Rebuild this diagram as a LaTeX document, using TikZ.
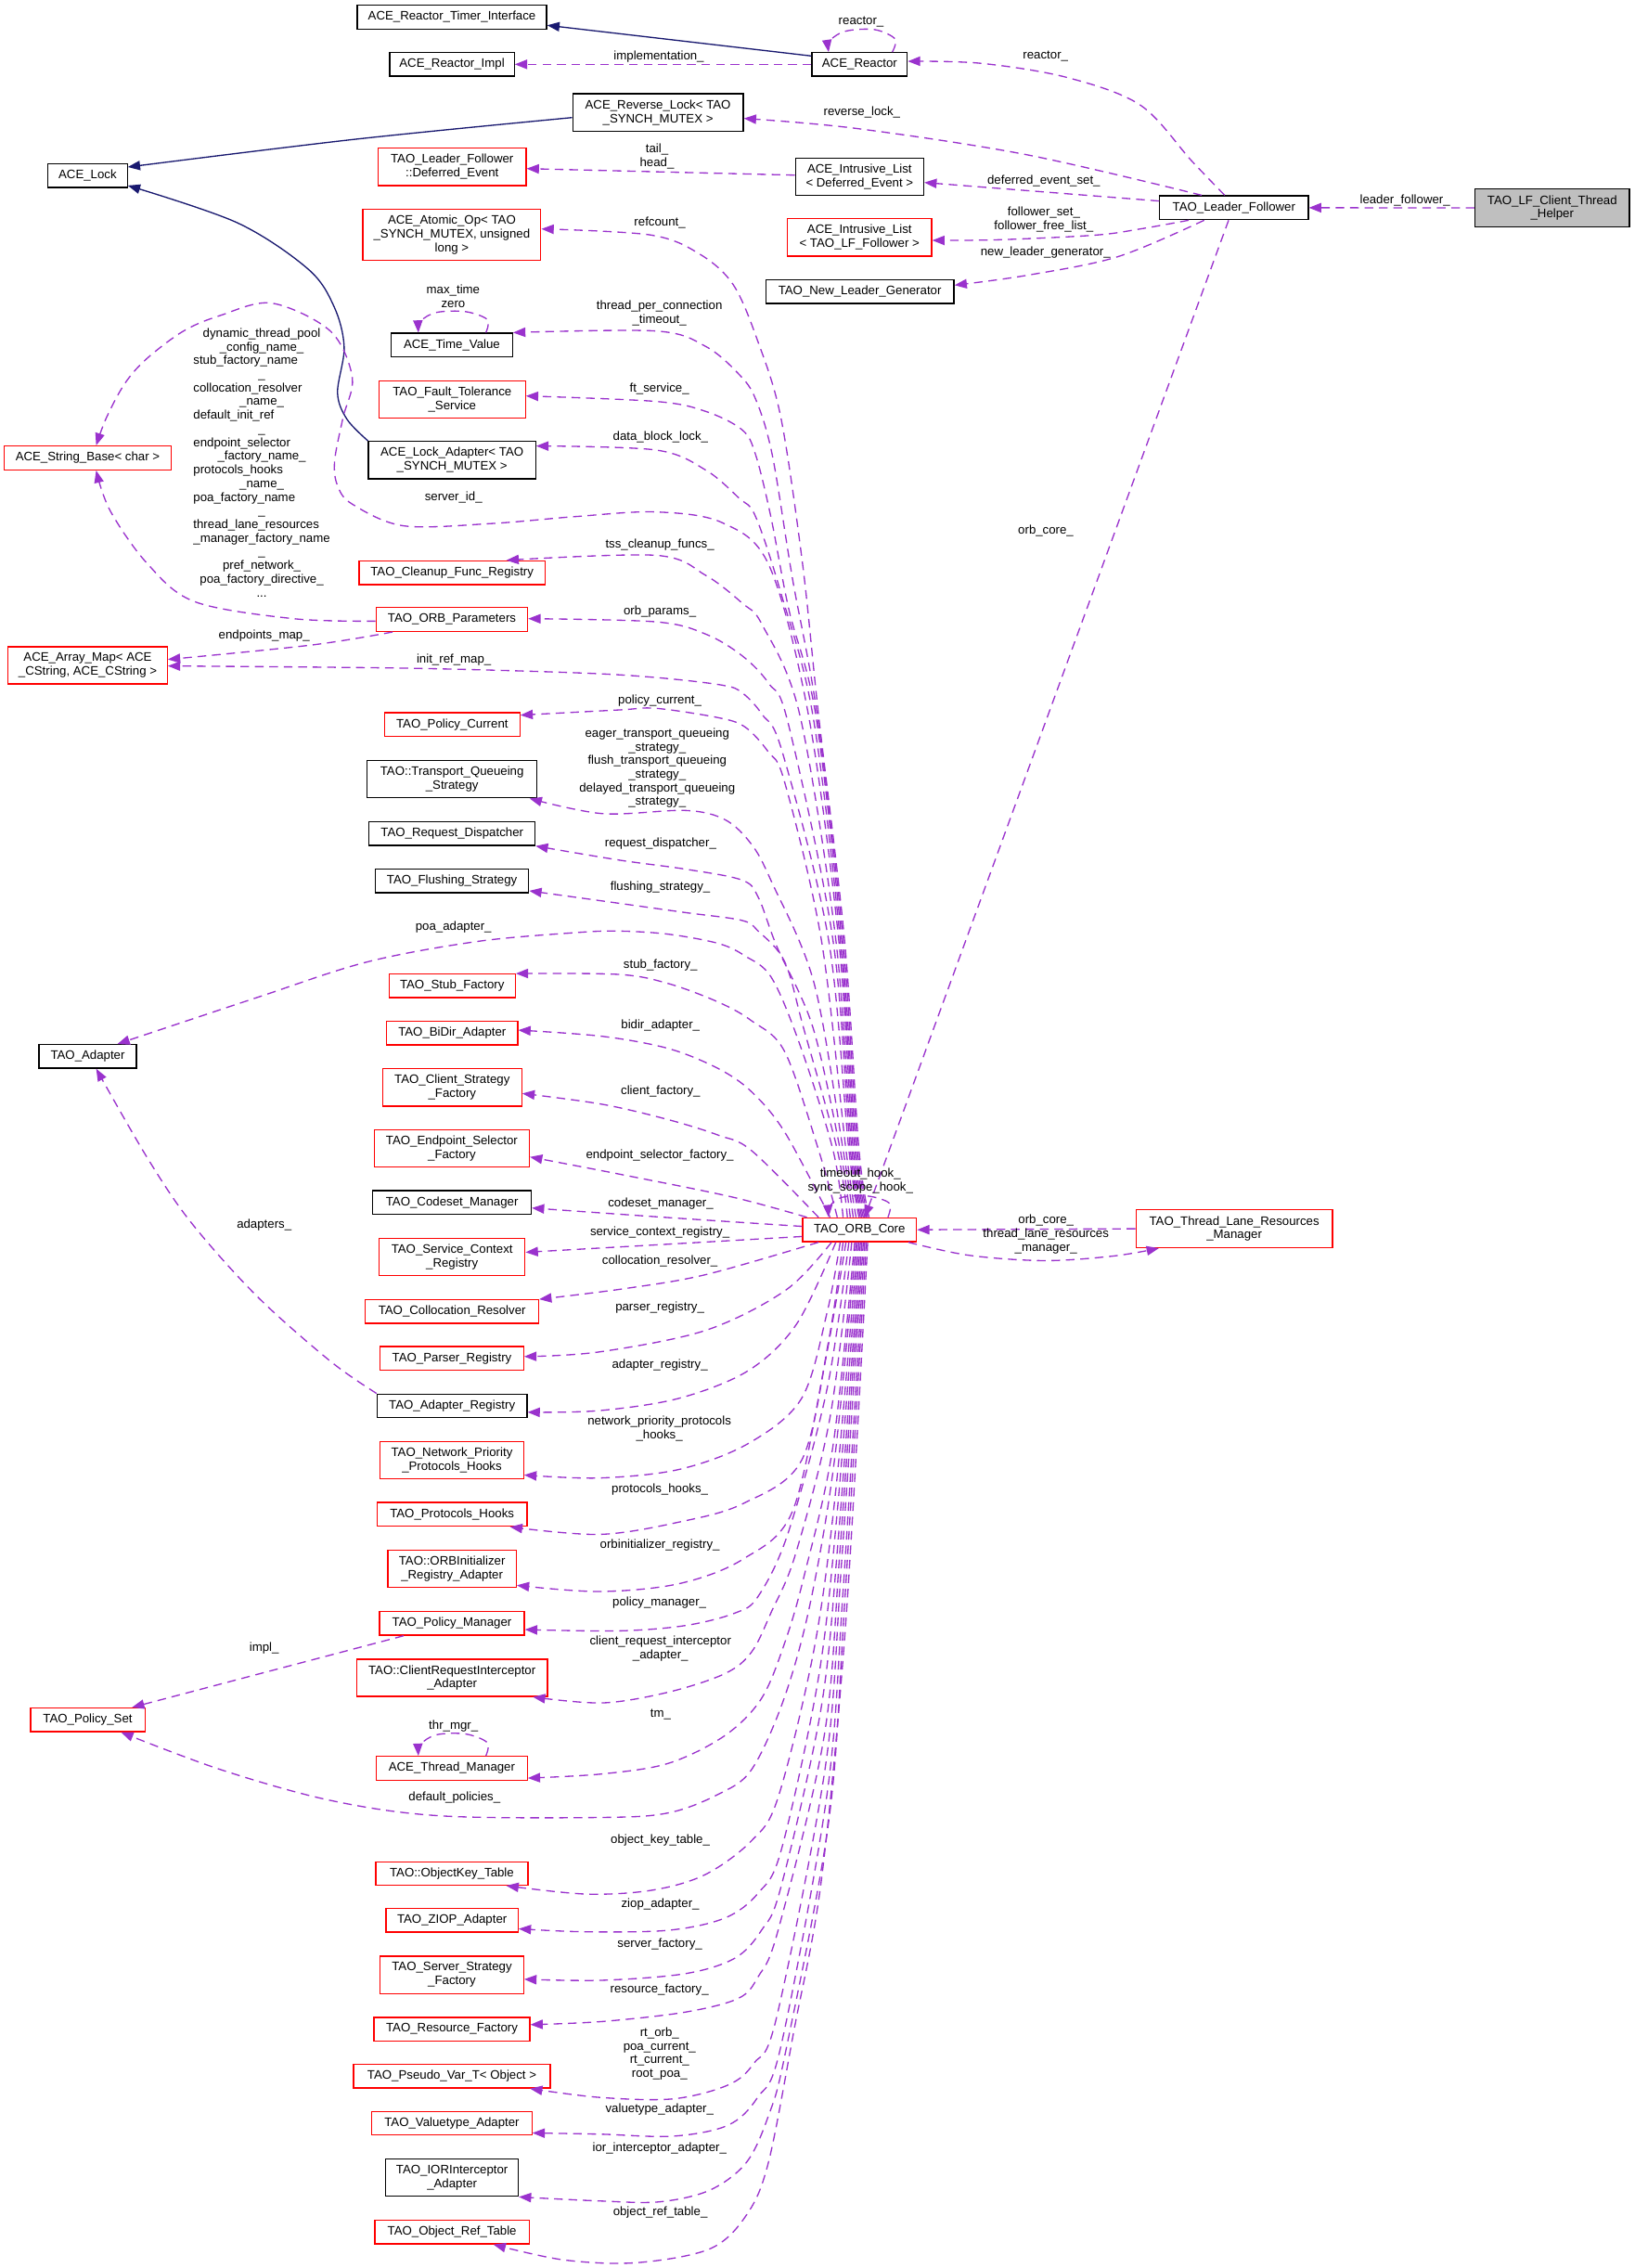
\documentclass[tikz,border=0pt]{standalone}
\usepackage{fontspec}
\setmainfont{Liberation Sans}
\usetikzlibrary{arrows.meta}
\definecolor{purp}{HTML}{9A32CD}
\definecolor{navyb}{HTML}{191970}
\definecolor{gfill}{HTML}{BFBFBF}
\newcommand\fs{\fontsize{8.5}{9.45}\selectfont}
\newcommand\bx[6]{\node[#1,minimum width=#4pt,minimum height=#5pt] (#2) at (#3) {#6};}
\newcommand\lb[3]{\node[lbl] (#1) at (#2) {#3};}
\newcommand\pe[2][]{\draw[mem,#1] plot[smooth,tension=0.55] coordinates {#2};}
\newcommand\cc[1]{\multicolumn{1}{@{}c@{}}{#1}}
\tikzset{
 bbox/.style={draw=black,fill=white,line width=0.8pt,inner sep=0pt,align=center,font=\fs},
 rbox/.style={bbox,draw=red},
 gbox/.style={bbox,fill=gfill},
 mem/.style={draw=purp,line width=0.85pt,dash pattern=on 6pt off 4pt,-{Triangle[length=8.5pt,width=6.5pt]}},
 inh/.style={draw=navyb,line width=0.85pt,-{Triangle[length=8.5pt,width=6.5pt]}},
 lbl/.style={inner sep=0pt,align=center,font=\fs},
}
\begin{document}
\begin{tikzpicture}[x=1pt,y=-1pt]
\useasboundingbox (0,0) rectangle (1130,1568.27);
\fill[white] (0,0) rectangle (1130,1568.27);
% ---------- nodes
\bx{bbox}{rti}{312.5,11.85}{131}{16.5}{ACE\_Reactor\_Timer\_Interface}
\bx{bbox}{rimpl}{312.55,44.5}{86.1}{16.2}{ACE\_Reactor\_Impl}
\bx{bbox}{reactor}{594.45,44.5}{65.9}{16.2}{ACE\_Reactor}
\bx{bbox}{rlock}{455,77.75}{118}{25.9}{ACE\_Reverse\_Lock< TAO\\\_SYNCH\_MUTEX >}
\bx{bbox}{lock}{60.6,121.5}{54.8}{16.2}{ACE\_Lock}
\bx{rbox}{defev}{312.65,115.4}{102.3}{25.8}{TAO\_Leader\_Follower\\::Deferred\_Event}
\bx{bbox}{ildef}{594.4,122.35}{88.8}{25.7}{ACE\_Intrusive\_List\\< Deferred\_Event >}
\bx{bbox}{lf}{853.35,143.65}{102.7}{16.5}{TAO\_Leader\_Follower}
\bx{gbox}{helper}{1073.4,143.75}{106.8}{26.1}{TAO\_LF\_Client\_Thread\\\_Helper}
\bx{rbox}{atomic}{312.45,162.45}{123.1}{35.3}{ACE\_Atomic\_Op< TAO\\\_SYNCH\_MUTEX, unsigned\\long >}
\bx{rbox}{ilfol}{594.35,164.15}{99.9}{25.9}{ACE\_Intrusive\_List\\< TAO\_LF\_Follower >}
\bx{bbox}{nlg}{594.6,201.8}{130.2}{16.2}{TAO\_New\_Leader\_Generator}
\bx{bbox}{tv}{312.45,238.5}{83.9}{16.2}{ACE\_Time\_Value}
\bx{rbox}{ft}{312.7,276.35}{101.2}{25.7}{TAO\_Fault\_Tolerance\\\_Service}
\bx{rbox}{strb}{60.6,316.65}{115.2}{16.5}{ACE\_String\_Base< char >}
\bx{bbox}{lockad}{312.6,318.15}{115.6}{25.9}{ACE\_Lock\_Adapter< TAO\\\_SYNCH\_MUTEX >}
\bx{rbox}{cleanup}{312.6,396.05}{128.4}{16.5}{TAO\_Cleanup\_Func\_Registry}
\bx{rbox}{params}{312.5,428.35}{104.8}{16.5}{TAO\_ORB\_Parameters}
\bx{rbox}{amap}{60.65,460.1}{110.1}{25.6}{ACE\_Array\_Map< ACE\\\_CString, ACE\_CString >}
\bx{rbox}{pcur}{312.7,501.05}{93.6}{16.5}{TAO\_Policy\_Current}
\bx{bbox}{tqs}{312.6,538.85}{117.2}{25.7}{TAO::Transport\_Queueing\\\_Strategy}
\bx{bbox}{rd}{312.65,576.45}{114.7}{16.3}{TAO\_Request\_Dispatcher}
\bx{bbox}{fs}{312.6,609.15}{106}{16.3}{TAO\_Flushing\_Strategy}
\bx{bbox}{adapter}{60.65,730.45}{67.5}{16.3}{TAO\_Adapter}
\bx{rbox}{stub}{312.65,681.7}{87.3}{16.2}{TAO\_Stub\_Factory}
\bx{rbox}{bidir}{312.7,714.25}{90.6}{16.5}{TAO\_BiDir\_Adapter}
\bx{rbox}{csf}{312.7,751.95}{96.2}{25.9}{TAO\_Client\_Strategy\\\_Factory}
\bx{rbox}{esf}{312.45,794}{107.3}{25.6}{TAO\_Endpoint\_Selector\\\_Factory}
\bx{bbox}{codeset}{312.6,831.55}{109.6}{16.5}{TAO\_Codeset\_Manager}
\bx{rbox}{orb}{594.4,850.35}{78.8}{16.5}{TAO\_ORB\_Core}
\bx{rbox}{tlrm}{853.5,849.65}{136}{26.1}{TAO\_Thread\_Lane\_Resources\\\_Manager}
\bx{rbox}{scr}{312.6,869.35}{101}{25.7}{TAO\_Service\_Context\\\_Registry}
\bx{rbox}{coll}{312.6,906.95}{119.8}{16.3}{TAO\_Collocation\_Resolver}
\bx{rbox}{parser}{312.5,939.35}{99.2}{16.5}{TAO\_Parser\_Registry}
\bx{bbox}{areg}{312.6,972}{103.6}{16.2}{TAO\_Adapter\_Registry}
\bx{rbox}{nph}{312.5,1009.6}{99.2}{25.6}{TAO\_Network\_Priority\\\_Protocols\_Hooks}
\bx{rbox}{ph}{312.6,1047.15}{103.6}{16.5}{TAO\_Protocols\_Hooks}
\bx{rbox}{orbinit}{312.6,1084.9}{88.8}{25.8}{TAO::ORBInitializer\\\_Registry\_Adapter}
\bx{rbox}{pm}{312.5,1122.55}{100.2}{16.3}{TAO\_Policy\_Manager}
\bx{rbox}{cria}{312.6,1160.15}{132}{25.7}{TAO::ClientRequestInterceptor\\\_Adapter}
\bx{rbox}{pset}{60.65,1189.2}{79.1}{16.4}{TAO\_Policy\_Set}
\bx{rbox}{thrm}{312.45,1222.75}{104.3}{16.5}{ACE\_Thread\_Manager}
\bx{rbox}{okt}{312.45,1295.4}{105.3}{16.2}{TAO::ObjectKey\_Table}
\bx{rbox}{ziop}{312.6,1327.9}{91.4}{16.2}{TAO\_ZIOP\_Adapter}
\bx{rbox}{ssf}{312.5,1365.55}{99.2}{25.7}{TAO\_Server\_Strategy\\\_Factory}
\bx{rbox}{rf}{312.5,1403.15}{107.8}{16.3}{TAO\_Resource\_Factory}
\bx{rbox}{pvar}{312.5,1435.6}{136}{16.4}{TAO\_Pseudo\_Var\_T< Object >}
\bx{rbox}{vta}{312.5,1468.25}{110.6}{16.3}{TAO\_Valuetype\_Adapter}
\bx{bbox}{iora}{312.6,1505.85}{91.6}{25.7}{TAO\_IORInterceptor\\\_Adapter}
\bx{rbox}{ort}{312.6,1543.5}{106.8}{16.2}{TAO\_Object\_Ref\_Table}
% ---------- inheritance
\draw[inh] (reactor.west |- 0,38.7) -- (rti.east |- 0,17.5);
\draw[inh] plot[smooth,tension=0.55] coordinates {(rlock.west |- 0,81.3) (245.6,96.3) (lock.east |- 0,115.5)};
\draw[inh] plot[smooth,tension=0.55] coordinates {(lockad.north west) (240,290) (233.4,271.7) (238,240) (231,212) (213,186) (164,154) (lock.east |- 0,128.3)};
% ---------- top cluster
\pe{(617,0 |- reactor.north) (619,27) (605,20.5) (585,21.5) (574,28) (573,0 |- reactor.north)}
\draw[mem] (reactor.west) -- (rimpl.east);
\draw[mem] (ildef.west |- 0,121.1) -- (defev.east |- 0,116.6);
\draw[mem] (helper.west) -- (lf.east);
\pe{(846.9,0 |- lf.north) (824,111.2) (788.6,72.7) (737.6,53.5) (678.5,43.8) (reactor.east |- 0,42.4)}
\pe{(831,0 |- lf.north) (710,107) (592,88.8) (rlock.east |- 0,81.9)}
\draw[mem] (lf.west |- 0,139) -- (ildef.east |- 0,126.2);
\pe{(822,0 |- lf.south) (788.6,158.3) (757.2,162.6) (690.3,165.8) (ilfol.east |- 0,166.2)}
\pe{(832.7,0 |- lf.south) (773,177.5) (710,190.4) (nlg.east |- 0,197.2)}
\draw[mem] (849.6,0 |- lf.south) -- (598,0 |- orb.north);
% ---------- self loops
\pe{(336,0 |- tv.north) (337,221) (322,215.5) (302,216) (291,222) (289.3,0 |- tv.north)}
\pe{(336,0 |- thrm.north) (337,1205) (322,1199) (302,1199.5) (291,1206) (289.3,0 |- thrm.north)}
\pe{(614,0 |- orb.north) (615,832) (600,827) (582,828) (574,834) (573,0 |- orb.north)}
% ---------- ORB upward edges
\pe{(601,0 |- orb.north) (594,795) (584,650) (566,494) (555,390) (540,288.8) (523.8,235.3) (507,196.8) (483.7,175.6) (450,162.5) (atomic.east |- 0,158.3)}
\pe{(600,0 |- orb.north) (593,795) (583,650) (565,494) (548,400) (534,314.4) (522.5,275.9) (511,258.8) (488.1,239.6) (453.8,228.9) (tv.north east)}
\pe{(599,0 |- orb.north) (592,795) (582,650) (564,494) (545.5,421.4) (533,357) (522.5,314.4) (513.3,297.3) (488.1,284.5) (453.8,277.6) (ft.east |- 0,273.8)}
\pe{(598,0 |- orb.north) (591,795) (581,650) (562,494) (540,410) (522.5,357.2) (511,344.4) (488.1,325.1) (453.8,311.2) (lockad.east |- 0,308.4)}
\pe{(597,0 |- orb.north) (590,795) (580,650) (559,494) (532,391.4) (499.6,361.5) (453.7,354) (397.9,357.2) (340,362) (279.1,363.6) (243.6,348.6) (233.4,335.8) (231.4,318.7) (237.2,288.8) (243.6,261) (228.4,228.9) (187.8,209.6) (152.2,218.2) (126.9,228.9) (101.5,248) (86.3,265.2) (73.6,288.8) (66.5,0 |- strb.north)}
\pe{(596,0 |- orb.north) (589,795) (578,650) (553,494) (527.1,432.1) (513.3,417.1) (488.1,397.9) (453.8,384) (350.2,0 |- cleanup.north)}
\pe{(595,0 |- orb.north) (588,795) (576,650) (545,500) (531.7,472.7) (513.3,453.5) (488.1,438.5) (453.8,430) (params.east |- 0,427.8)}
\pe{(594,0 |- orb.north) (587,795) (573,650) (541,520) (527.1,494.1) (513.3,479.1) (499.6,473.8) (453.8,468.5) (397.9,465.2) (279,462) (amap.east |- 0,460.5)}
\pe{(592,0 |- orb.north) (585,795) (568,650) (542.7,541.2) (531.2,519.8) (515.2,502.7) (496.9,496.3) (453.8,489.8) (428.1,490.9) (pcur.east |- 0,494.5)}
\pe{(590,0 |- orb.north) (583,795) (563,680) (533.5,609.6) (519.8,584) (501.4,566.8) (473.9,560.4) (416.6,562.6) (366.2,0 |- tqs.south)}
\pe{(588,0 |- orb.north) (581,795) (562,710) (537,654) (524.3,620.3) (512.9,608.5) (474,601) (428,594.7) (rd.south east)}
\pe{(586,0 |- orb.north) (579,795) (556,712) (542.7,665.2) (524.4,643.9) (512.9,636.4) (473.9,631) (428.1,624.6) (fs.east |- 0,616)}
\pe{(583,0 |- orb.north) (576,795) (553,722) (533.5,676) (515.2,661) (496.9,652.4) (462.5,646) (428.1,643.8) (397.9,644.9) (330,651) (253.7,665.2) (177.6,689.8) (81.2,0 |- adapter.north)}
\pe{(579,0 |- orb.north) (566,795) (542.7,727.3) (519.8,705.9) (496.9,693) (462.5,680.2) (428.1,673.8) (stub.north east)}
\pe{(574,0 |- orb.north) (542.7,782.9) (519.8,755) (496.9,739) (462.5,725.1) (416.6,716.6) (bidir.east |- 0,712.3)}
\pe{(566,0 |- orb.north) (519.8,795.7) (496.9,785) (462.5,774.3) (416.6,763.6) (csf.east |- 0,756.1)}
\pe{(558,0 |- orb.north) (506.7,827.8) (433,812.8) (esf.east |- 0,800)}
\pe{(orb.west |- 0,848) (458.8,841.7) (codeset.east |- 0,835.3)}
\pe{(orb.west |- 0,855) (458.8,860.5) (scr.east |- 0,865.9)}
% ---------- ORB downward edges
\pe{(566,0 |- orb.south) (488.3,881.3) (433,890.9) (coll.north east)}
\pe{(575,0 |- orb.south) (543.5,892) (488.3,919.8) (414.5,934.8) (parser.east |- 0,938)}
\pe{(578,0 |- orb.south) (550.9,915.5) (517.7,947.6) (469.9,966.8) (414.5,975.4) (areg.east |- 0,976.5)}
\pe{(581,0 |- orb.south) (572,907.3) (554.4,966.8) (517.7,998) (469.9,1016) (414.5,1022) (nph.east |- 0,1019.9)}
\pe{(583,0 |- orb.south) (573.1,926.6) (554.4,1009.6) (514,1039.6) (469.9,1052.4) (414.5,1061) (352.7,0 |- ph.south)}
\pe{(585,0 |- orb.south) (570,945) (548,1045) (514,1078) (469.9,1095) (414.5,1100.5) (orbinit.east |- 0,1096.2)}
\pe{(587,0 |- orb.south) (572,960) (545,1060) (524.3,1103.8) (508.2,1115.4) (474,1124) (428,1127.7) (pm.east |- 0,1126.8)}
\pe{(589,0 |- orb.south) (574,980) (550,1075) (533.5,1114.4) (519.8,1142.2) (501.4,1157.2) (462.5,1170) (416.7,1177.5) (368.5,0 |- cria.south)}
\pe{(591,0 |- orb.south) (576,1000) (556,1090) (542.7,1135.8) (526.6,1174.4) (501.4,1200) (462.5,1219.2) (416.7,1226.6) (thrm.east |- 0,1229.5)}
\pe{(592,0 |- orb.south) (577,1010) (560,1110) (542,1175) (519.8,1223.5) (496.9,1240.6) (462.5,1253.5) (416.7,1256.7) (304.5,1255.6) (228.4,1244.9) (152.2,1223.5) (83.7,0 |- pset.south)}
\pe{(593,0 |- orb.south) (578,1030) (563,1140) (538.1,1242.8) (519.8,1272.7) (487.7,1296.2) (451,1307) (405.2,1309.7) (350.1,0 |- okt.south)}
\pe{(594,0 |- orb.south) (579,1045) (566,1160) (540.3,1279.1) (524.3,1309) (501.4,1326.2) (462.5,1334.7) (405.2,1335.8) (ziop.east |- 0,1333.7)}
\pe{(595,0 |- orb.south) (580,1060) (568,1180) (540,1305) (526.6,1334.7) (508.2,1354) (474,1364.7) (416.7,1369.3) (ssf.east |- 0,1368.6)}
\pe{(596,0 |- orb.south) (581,1070) (570,1200) (538,1335) (524.3,1366.8) (510.6,1381.8) (474,1391.3) (416.7,1397.8) (rf.east |- 0,1400)}
\pe{(597,0 |- orb.south) (582,1080) (571,1220) (537,1395) (521.3,1426.7) (503.5,1441.7) (465.5,1451.3) (414.7,1450.3) (366.5,0 |- pvar.south)}
\pe{(598,0 |- orb.south) (583,1100) (572,1240) (540,1415) (523.9,1450.3) (503.5,1469.5) (465.5,1477.1) (414.7,1475.7) (vta.east |- 0,1474.9)}
\pe{(599,0 |- orb.south) (584,1110) (573,1260) (543,1420) (531.4,1463) (516.2,1495.2) (490.9,1514.4) (456.1,1522.5) (414.7,1521.9) (iora.south east)}
\pe{(600,0 |- orb.south) (585,1120) (568,1300) (549.2,1403.2) (531.4,1495.2) (516.2,1531.6) (490.9,1555) (440.1,1564.6) (389.4,1562.6) (341.2,0 |- ort.south)}
% ---------- other edges
\pe{(params.west |- 0,429.5) (203,427.8) (134.5,416) (101.5,389.3) (76.1,353) (66.5,0 |- strb.south)}
\pe{(271.5,0 |- params.south) (215.6,446) (amap.east |- 0,456)}
\pe{(areg.north west) (228.4,941.2) (177.6,896.2) (131.9,845) (101.5,800) (66.5,0 |- adapter.south)}
\draw[mem] (279.1,0 |- pm.south) -- (91.3,0 |- pset.north);
\draw[mem] (tlrm.west) -- (orb.east);
\pe{(628.2,0 |- orb.south) (670,868) (722.2,871.7) (770,868.5) (801.4,0 |- tlrm.south)}
% ---------- labels
\lb{la}{595.5,15.4}{reactor\_}
\lb{lb}{455.6,39.1}{implementation\_}
\lb{lc}{723,39.1}{reactor\_}
\lb{ld}{596,77.6}{reverse\_lock\_}
\lb{le}{454.3,108}{tail\_\\head\_}
\lb{lf2}{721.8,125.1}{deferred\_event\_set\_}
\lb{lg}{971.6,138.6}{leader\_follower\_}
\lb{lh}{721.8,151.9}{follower\_set\_\\follower\_free\_list\_}
\lb{li}{723,174.6}{new\_leader\_generator\_}
\lb{lj}{456.3,154}{refcount\_}
\lb{lk}{313.4,204.8}{max\_time\\zero}
\lb{ll}{456,216.7}{thread\_per\_connection\\\_timeout\_}
\lb{lm}{456,268.7}{ft\_service\_}
\lb{ln}{456.8,302}{data\_block\_lock\_}
\node[lbl] (lstack) at (181,321) {\begin{tabular}{@{}l@{}}
\cc{dynamic\_thread\_pool}\\
\cc{\_config\_name\_}\\
stub\_factory\_name\\
\cc{\_}\\
collocation\_resolver\\
\cc{\_name\_}\\
default\_init\_ref\\
\cc{\_}\\
endpoint\_selector\\
\cc{\_factory\_name\_}\\
protocols\_hooks\\
\cc{\_name\_}\\
poa\_factory\_name\\
\cc{\_}\\
thread\_lane\_resources\\
\_manager\_factory\_name\\
\cc{\_}\\
\cc{pref\_network\_}\\
\cc{poa\_factory\_directive\_}\\
\cc{...}
\end{tabular}};
\lb{lo}{313.6,344}{server\_id\_}
\lb{lp}{723.2,367}{orb\_core\_}
\lb{lq}{456.3,376.5}{tss\_cleanup\_funcs\_}
\lb{lr}{456.3,422.9}{orb\_params\_}
\lb{ls}{182.7,439.6}{endpoints\_map\_}
\lb{lt}{313.9,456}{init\_ref\_map\_}
\lb{lu}{456.3,484.3}{policy\_current\_}
\lb{lv}{454.5,531.1}{eager\_transport\_queueing\\\_strategy\_\\flush\_transport\_queueing\\\_strategy\_\\delayed\_transport\_queueing\\\_strategy\_}
\lb{lw}{456.8,583.3}{request\_dispatcher\_}
\lb{lx}{456.6,613.5}{flushing\_strategy\_}
\lb{ly}{313.6,641}{poa\_adapter\_}
\lb{lz}{456.7,667.4}{stub\_factory\_}
\lb{m1}{456.7,709.1}{bidir\_adapter\_}
\lb{m2}{456.8,754.6}{client\_factory\_}
\lb{m3}{456.3,798.9}{endpoint\_selector\_factory\_}
\lb{m4}{595,816.6}{timeout\_hook\_\\sync\_scope\_hook\_}
\lb{m5}{456.9,832.3}{codeset\_manager\_}
\lb{m6}{723.3,843.8}{orb\_core\_}
\lb{m7}{182.7,847.1}{adapters\_}
\lb{m8}{456.3,852.2}{service\_context\_registry\_}
\lb{m9}{723.3,858.5}{thread\_lane\_resources\\\_manager\_}
\lb{n1}{456.3,871.9}{collocation\_resolver\_}
\lb{n2}{456.3,904.4}{parser\_registry\_}
\lb{n3}{456.3,944}{adapter\_registry\_}
\lb{n4}{456,987.8}{network\_priority\_protocols\\\_hooks\_}
\lb{n5}{456.3,1030}{protocols\_hooks\_}
\lb{n6}{456.3,1068.4}{orbinitializer\_registry\_}
\lb{n7}{456,1108}{policy\_manager\_}
\lb{n8}{456.7,1139.9}{client\_request\_interceptor\\\_adapter\_}
\lb{n9}{182.7,1139.7}{impl\_}
\lb{o1}{456.8,1185.2}{tm\_}
\lb{o2}{313.6,1193.6}{thr\_mgr\_}
\lb{o3}{314.3,1243}{default\_policies\_}
\lb{o4}{456.6,1272.5}{object\_key\_table\_}
\lb{o5}{456.6,1316.8}{ziop\_adapter\_}
\lb{o6}{456.3,1344.3}{server\_factory\_}
\lb{o7}{456,1375.8}{resource\_factory\_}
\lb{o8}{456.1,1420}{rt\_orb\_\\poa\_current\_\\rt\_current\_\\root\_poa\_}
\lb{o9}{456.1,1458.6}{valuetype\_adapter\_}
\lb{p1}{456.1,1485.5}{ior\_interceptor\_adapter\_}
\lb{p2}{456.6,1529.6}{object\_ref\_table\_}
\end{tikzpicture}
\end{document}
